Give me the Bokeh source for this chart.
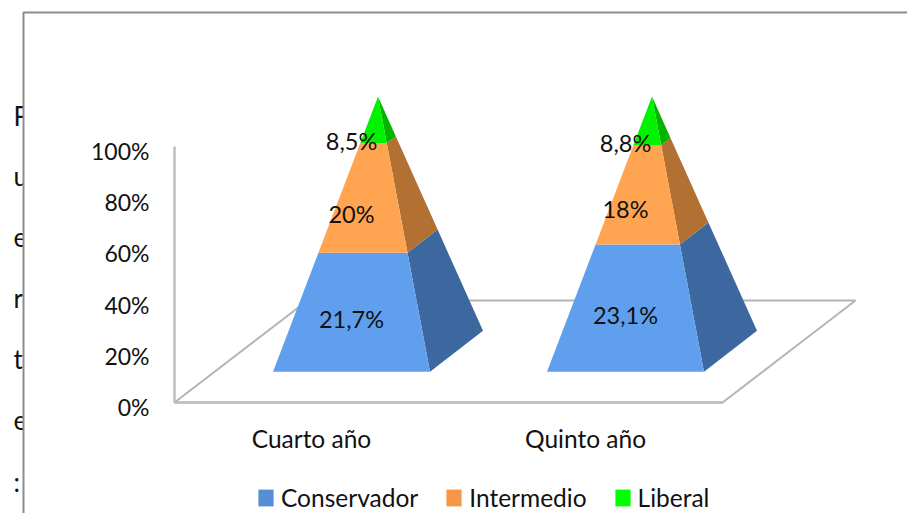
from bokeh.plotting import figure
from bokeh.models import (LinearAxis, FixedTicker, Range1d, Legend, LegendItem)
from bokeh.core.properties import value
from bokeh.embed import file_html
from bokeh.resources import INLINE

# ---- data ----
categories = ["Cuarto año", "Quinto año"]
series = ["Conservador", "Intermedio", "Liberal"]
conservador = [21.7, 23.1]
intermedio = [20, 18]
liberal = [8.5, 8.8]
value_labels = [["21,7%", "23,1%"], ["20%", "18%"], ["8,5%", "8,8%"]]
percent_ticks = [0, 20, 40, 60, 80, 100]
percent_labels = ["0%", "20%", "40%", "60%", "80%", "100%"]
side_text = ["F", "u", "e", "r", "t", "e", ":"]

# ---- style ----
front_colors = ["#5F9FEE", "#FFA552", "#00F200"]
side_colors = ["#3D679F", "#B27033", "#00B400"]
legend_colors = ["#558ED5", "#F79646", "#00FF00"]
FONT = "Lato"
W, H = 907, 513   # fits the 923x529 window with its 8px margin
PXX = 274.0   # px per category
PXY = 2.56    # px per percent
X0_PX, Y0_PX = 174.0, 402.0   # figure px of category 0.5 / 0 %


def xd(px):
    return 0.5 + (px - X0_PX) / PXX


def yd(py):
    return (Y0_PX - py) / PXY


p = figure(width=W, height=H, output_backend="svg", toolbar_location=None,
           x_axis_location=None, y_axis_location=None,
           x_range=Range1d(xd(0), xd(W)), y_range=Range1d(yd(H), yd(0)),
           min_border=0, outline_line_color=None, background_fill_color="white")
p.grid.visible = False
p.extra_y_ranges["labels"] = Range1d((406.5 - H) / PXY, 406.5 / PXY)

# text of the page behind the chart, clipped by the chart area
side_y = [115, 175, 236, 297, 358, 419, 481]
p.text(x=[xd(13)] * 7, y=[yd(v) for v in side_y], text=side_text,
       text_font=value(FONT), text_font_size="26px",
       text_baseline="middle", text_color="#111111")
p.quad(left=[xd(23)], right=[xd(W)], top=[yd(12)], bottom=[yd(H)],
       fill_color="white", line_color=None)
p.line(x=[xd(23), xd(23), xd(W)], y=[yd(H), yd(12), yd(12)],
       line_color="#8C8C8C", line_width=2)

# floor
DEPTH_X, DEPTH_Y = 133 / PXX, 102 / PXY
p.patch(x=[0.5, 2.5, 2.5 + DEPTH_X, 0.5 + DEPTH_X], y=[0, 0, DEPTH_Y, DEPTH_Y],
        fill_color=None, line_color="#B4B4B4", line_width=2)

# pyramids
HALF_W = 78.5 / PXX
DX, DY = 26.5 / PXX, 8.0
CY = 20.0
APEX_H = 99.5
LABEL_FRACTION = [0.445, 0.355, 0.05]
rows = [conservador, intermedio, liberal]
lx, ly, lt = [], [], []
for c in range(len(categories)):
    cx = c + 1 + DEPTH_X / 2
    apex = (cx, CY + APEX_H)
    fl = (cx - HALF_W - DX, CY - DY)
    fr = (cx + HALF_W - DX, CY - DY)
    br = (cx + HALF_W + DX, CY + DY)
    total = sum(r[c] for r in rows)
    t0 = 0.0

    def at(pt, t):
        return (pt[0] + t * (apex[0] - pt[0]), pt[1] + t * (apex[1] - pt[1]))

    for s, r in enumerate(rows):
        t1 = t0 + r[c] / total
        quad = [at(fl, t0), at(fr, t0), at(fr, t1), at(fl, t1)]
        sq = [at(fr, t0), at(br, t0), at(br, t1), at(fr, t1)]
        p.patch([q[0] for q in sq], [q[1] for q in sq], fill_color=side_colors[s], line_color=None)
        p.patch([q[0] for q in quad], [q[1] for q in quad], fill_color=front_colors[s], line_color=None)
        lx.append(cx - DX)
        ly.append(at(fl, t0 + (t1 - t0) * LABEL_FRACTION[s])[1])
        lt.append(value_labels[s][c])
        t0 = t1

p.text(x=lx, y=ly, text=lt, text_font=value(FONT), text_font_size="23.5px",
       text_align="center", text_baseline="middle", text_color="#111111")

# axes
wall = LinearAxis(fixed_location=0.5, bounds=(0, 100), ticker=FixedTicker(ticks=[]),
                  axis_line_color="#BEBEBE", axis_line_width=2.5,
                  major_tick_line_color=None, minor_tick_line_color=None)
p.add_layout(wall, "left")

yaxis = LinearAxis(y_range_name="labels", fixed_location=0.5, ticker=FixedTicker(ticks=percent_ticks),
                   major_label_overrides=dict(zip(percent_ticks, percent_labels)),
                   axis_line_color=None, major_tick_line_color=None, minor_tick_line_color=None,
                   major_label_standoff=19, major_label_text_font=FONT,
                   major_label_text_font_size="23px", major_label_text_color="#111111")
p.add_layout(yaxis, "left")

tick_pos = [i + 1 for i in range(len(categories))]
xaxis = LinearAxis(fixed_location=0, bounds=(0.5, 2.5), ticker=FixedTicker(ticks=tick_pos),
                   major_label_overrides=dict(zip(tick_pos, categories)),
                   axis_line_color="#BEBEBE", axis_line_width=2.5,
                   major_tick_line_color=None, minor_tick_line_color=None,
                   major_label_standoff=15, major_label_text_font=FONT,
                   major_label_text_font_size="24.5px", major_label_text_color="#111111")
p.add_layout(xaxis, "below")

# legend
items = []
for name, col in zip(series, legend_colors):
    r = p.quad(left=[float("nan")], right=[float("nan")], top=[float("nan")], bottom=[float("nan")],
               fill_color=col, line_color=None)
    items.append(LegendItem(label=value(name), renderers=[r]))
legend = Legend(items=items, orientation="horizontal", location=(256, 1),
                glyph_width=19, glyph_height=21, label_standoff=6, spacing=26,
                padding=0, margin=0, border_line_color=None, background_fill_alpha=0,
                label_text_font=FONT, label_text_font_size="24.5px", label_text_color="#111111",
                label_height=21)
p.add_layout(legend, "center")

open("out.html", "w").write(file_html(p, INLINE))
